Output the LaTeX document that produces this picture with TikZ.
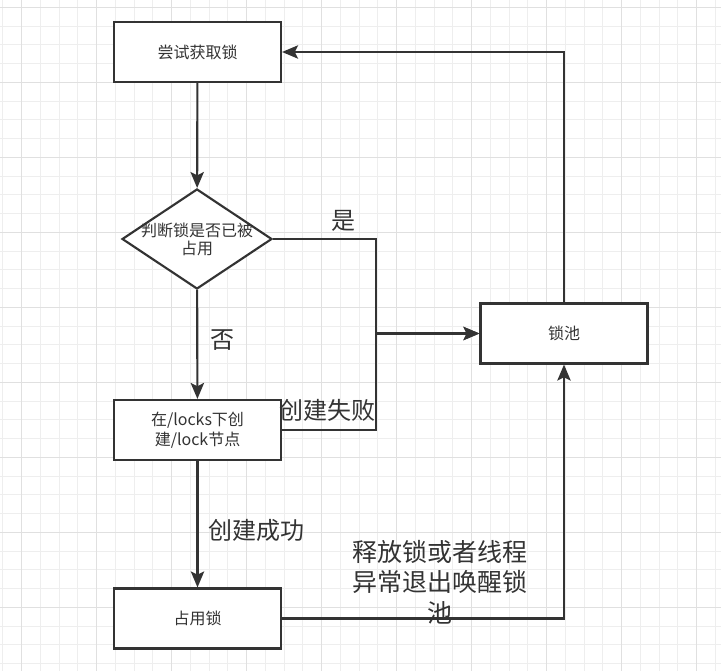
\documentclass[tikz,border=0pt]{standalone}
\usepackage{fontspec}
\setmainfont{Noto Sans CJK SC}
\usepackage{xcolor}
\usetikzlibrary{
    arrows.meta,
    shapes.geometric,
    calc
}
\definecolor{ink}{HTML}{333333}
\definecolor{gridmin}{HTML}{EEEEEE}
\definecolor{gridmaj}{HTML}{E0E0E0}
\tikzset{blk/.style={draw=ink, line width=1.6pt, fill=white, minimum width=125.25pt, minimum height=45pt, inner sep=0pt, text=ink, align=center, font=\fontsize{12}{15}\selectfont}}
\tikzset{dcsn/.style={diamond, draw=ink, line width=1.6pt, fill=white, minimum width=112.5pt, minimum height=75pt, inner sep=0pt}}
\tikzset{flow/.style={draw=ink, line width=1.6pt, -{Stealth[length=12pt, width=10pt, inset=2.5pt]}}}
\tikzset{lbl/.style={text=ink, inner sep=0pt, align=center, font=\fontsize{18}{23}\selectfont}}

\begin{document}
\begin{tikzpicture}[x=0.75pt, y=-0.75pt]
                        \useasboundingbox[fill=white] (0, 0) rectangle (721, 671);
                        % grid
                        \foreach \i in {0,...,38}
                            \draw[gridmin, line width=0.75pt] ({2.95+18.75*\i}, 0) -- ++(0, 671);
                        \foreach \i in {0,...,35}
                            \draw[gridmin, line width=0.75pt] (0, {7.3+18.75*\i}) -- ++(721, 0);
                        \foreach \i in {0,...,9}
                            \draw[gridmaj, line width=0.75pt] ({21.7+75*\i}, 0) -- ++(0, 671);
                        \foreach \i in {0,...,8}
                            \draw[gridmaj, line width=0.75pt] (0, {7.3+75*\i}) -- ++(721, 0);

                        \node[blk] (try) at (197.5, 52) {尝试获取锁};
                        \node[dcsn, label={[text=ink, align=center, font=\fontsize{12}{13.5}\selectfont]center:判断锁是否已被\\占用}] (dec) at (197, 239) {};
                        \node[blk] (mk) at (197.5, 430) {在/locks下创\\建/lock节点};
                        \node[blk] (use) at (197.5, 618.5) {占用锁};
                        \node[blk] (pool) at (564, 333.5) {锁池};
                        \coordinate (jn) at (376, 333.5);

                        \draw[flow] (try) -- (dec);
                        \draw[flow] (dec) -- (mk);
                        \draw[flow] (mk) -- (use);
                        \draw[flow] (dec.east) -| (jn) -- (pool);
                        \draw[flow] (mk.east) -| (jn) -- (pool);
                        \draw[flow] (pool.north) |- (try.east);
                        \draw[flow] (use.east) -| (pool.south);

                        \node[lbl] (yes) at (343, 221) {是};
                        \node[lbl] (no) at (222, 340) {否};
                        \node[lbl] (fail) at (327, 410) {创建失败};
                        \node[lbl] (ok) at (256, 530) {创建成功};
                        \node[lbl, font=\fontsize{18.75}{23}\selectfont] (wake) at (440, 582) {释放锁或者线程\\异常退出唤醒锁\\池};
                    \end{tikzpicture}
\end{document}
